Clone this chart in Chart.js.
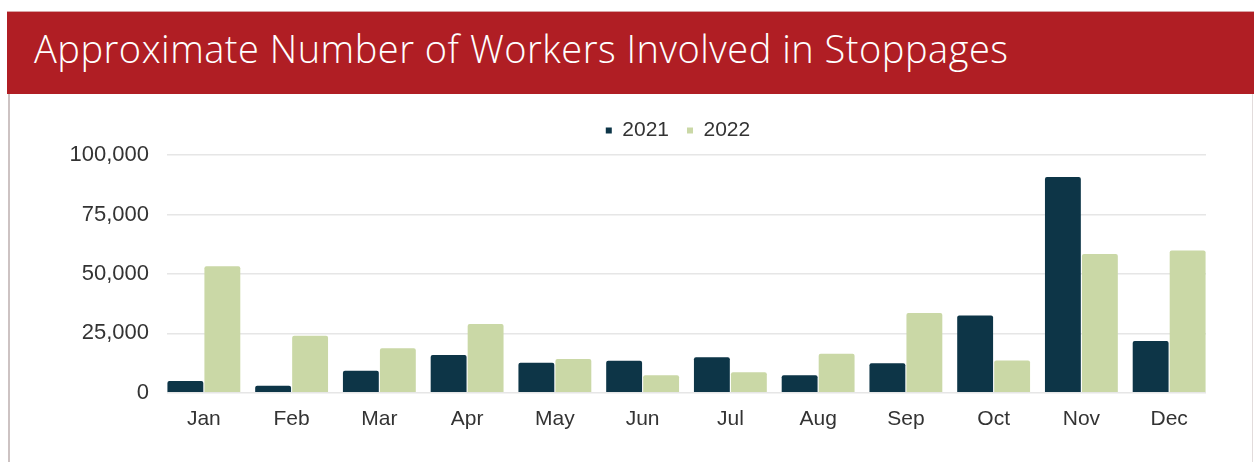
<!DOCTYPE html>
<html>
<head>
<meta charset="utf-8">
<script src="https://cdn.jsdelivr.net/npm/chart.js@4.4.1/dist/chart.umd.min.js"></script>
<style>
  html, body { margin: 0; padding: 0; background: #fff; }
  body { width: 1254px; height: 462px; position: relative; overflow: hidden; font-family: "Liberation Sans", Arial, sans-serif; }
  #banner {
    position: absolute; left: 7px; top: 11px; width: 1247px; height: 83px;
    background: #b01e24; border-top: 1px solid #d9a3a5; box-sizing: border-box;
  }
  #banner h1 {
    margin: 0; position: absolute; left: 27px; top: 16px;
    font-family: "Open Sans", Roboto, sans-serif; font-weight: 300;
    font-size: 38px; line-height: 40px; letter-spacing: 0.5px; color: #fff; white-space: nowrap;
  }
  #panel {
    position: absolute; left: 8px; top: 94px; width: 1245px; height: 380px;
    border-left: 2px solid #cdc3c3; border-right: 1px solid #e2dcdc; box-sizing: border-box;
  }
  #wrap { position: absolute; left: 0; top: 95px; width: 1254px; height: 367px; }
</style>
</head>
<body>
<div id="panel"></div>
<div id="banner"><h1>Approximate Number of Workers Involved in Stoppages</h1></div>
<div id="wrap"><canvas id="workersChart"></canvas></div>
<script>
const months = ['Jan', 'Feb', 'Mar', 'Apr', 'May', 'Jun', 'Jul', 'Aug', 'Sep', 'Oct', 'Nov', 'Dec'];
const workers2021 = [5000, 3000, 9300, 15900, 12600, 13500, 14900, 7400, 12400, 32500, 90700, 21800];
const workers2022 = [53200, 24000, 18700, 28900, 14200, 7400, 8600, 16400, 33600, 13600, 58400, 59800];
const yTicks = [0, 25000, 50000, 75000, 100000];

const ctx = document.getElementById('workersChart').getContext('2d');

const toPoints = vals => vals.map((v, i) => ({ x: i, y: v }));

// legend sits a bit right of the canvas centre and needs a little more room below it
const legendNudge = {
    id: 'legendNudge',
    beforeInit(chart) {
        const fit = chart.legend.fit;
        chart.legend.fit = function () {
            fit.call(this);
            this.height += 4;
        };
    },
    afterLayout(chart) {
        chart.legend.left += 45;
        chart.legend.right += 45;
    }
};

new Chart(ctx, {
    type: 'bar',
    data: {
        datasets: [
            {
                label: '2021',
                data: toPoints(workers2021),
                backgroundColor: '#0d3547',
                borderRadius: 2,
                borderSkipped: 'bottom'
            },
            {
                label: '2022',
                data: toPoints(workers2022),
                backgroundColor: '#cad8a6',
                borderRadius: 2,
                borderSkipped: 'bottom'
            }
        ]
    },
    options: {
        responsive: true,
        maintainAspectRatio: false,
        animation: false,
        categoryPercentage: 0.843,
        barPercentage: 0.97,
        layout: { padding: { left: 60, right: 48, top: 7, bottom: 24 } },
        plugins: {
            legend: {
                position: 'top',
                labels: {
                    boxWidth: 6,
                    boxHeight: 6,
                    padding: 18,
                    color: '#333',
                    font: { family: 'Liberation Sans', size: 21 }
                }
            },
            tooltip: { enabled: false }
        },
        scales: {
            x: {
                type: 'linear',
                min: -0.42,
                max: 11.42,
                offset: false,
                grid: { display: false },
                border: { display: false },
                afterBuildTicks: scale => { scale.ticks = months.map((m, i) => ({ value: i })); },
                ticks: {
                    autoSkip: false,
                    maxRotation: 0,
                    padding: 6,
                    color: '#333',
                    font: { family: 'Liberation Sans', size: 21 },
                    callback: value => months[value]
                }
            },
            y: {
                min: 0,
                max: 100000,
                afterBuildTicks: scale => { scale.ticks = yTicks.map(v => ({ value: v })); },
                afterFit: scale => { scale.width = 107; },
                grid: { color: '#e6e6e6', lineWidth: 1.5, drawTicks: false },
                border: { display: false },
                ticks: {
                    padding: 18,
                    color: '#333',
                    font: { family: 'Liberation Sans', size: 22 }
                }
            }
        }
    },
    plugins: [legendNudge]
});
</script>
</body>
</html>
